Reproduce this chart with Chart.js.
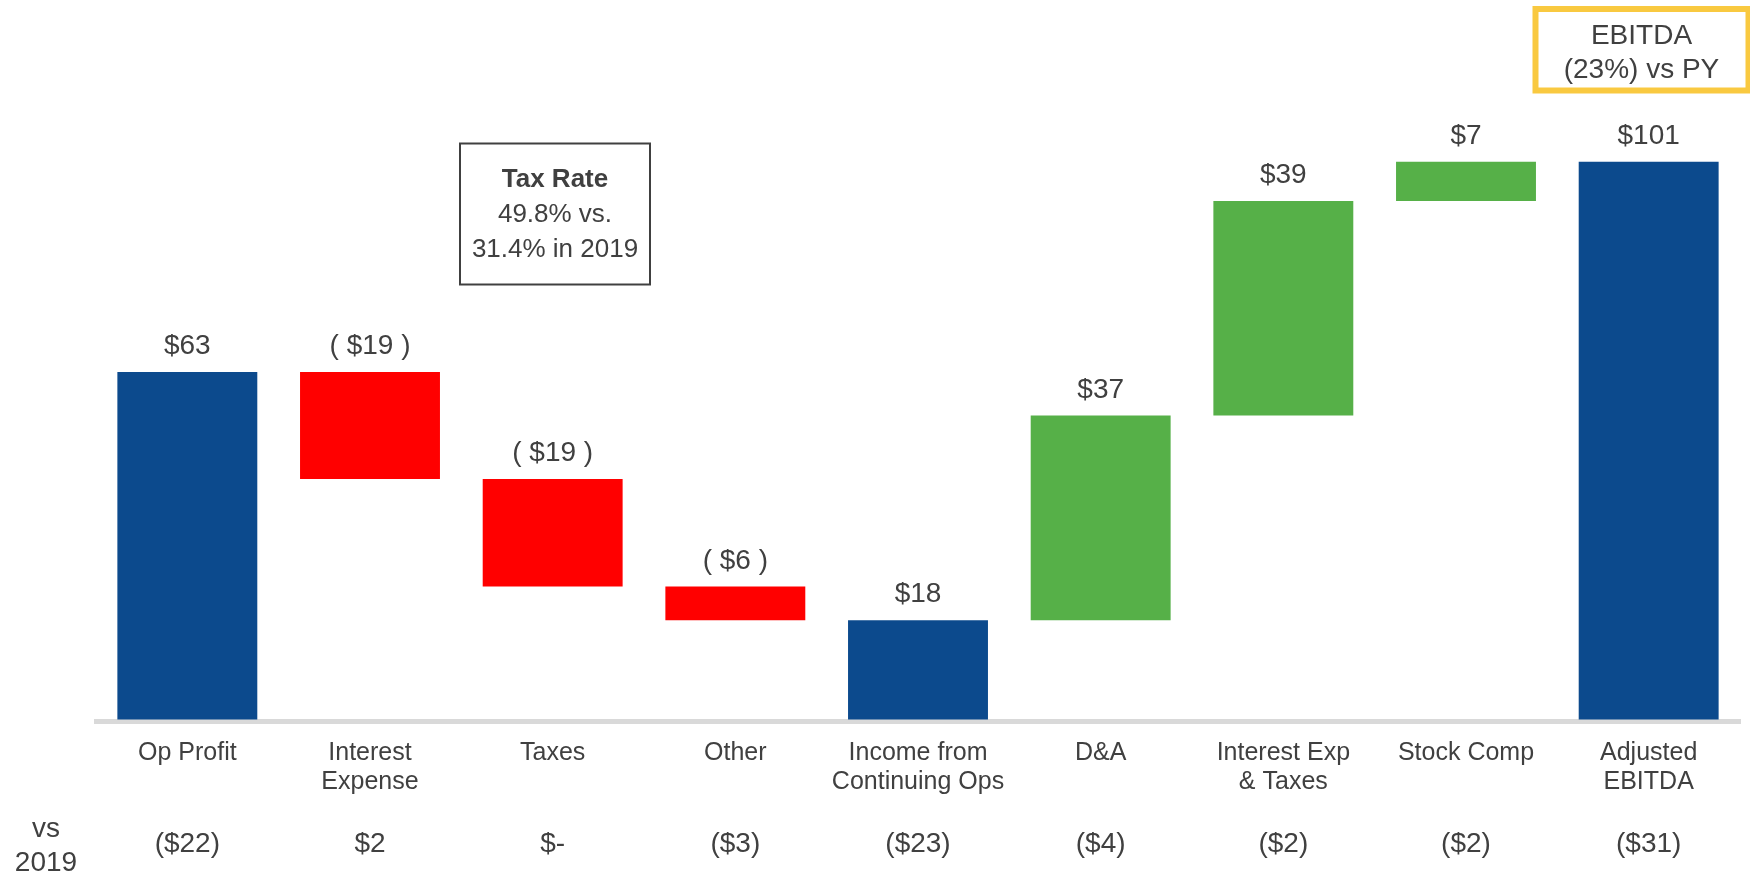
<!DOCTYPE html>
<html><head><meta charset="utf-8">
<script src="https://cdn.jsdelivr.net/npm/chart.js@4.4.1/dist/chart.umd.min.js"></script>
<style>html,body{margin:0;padding:0;background:#fff;}#wrap{width:1750px;height:872px;position:relative;}</style>
</head><body><div id="wrap"><canvas id="c" width="1750" height="872"></canvas></div>
<script>
const categories = [['Op Profit'],['Interest','Expense'],['Taxes'],['Other'],['Income from','Continuing Ops'],['D&A'],['Interest Exp','& Taxes'],['Stock Comp'],['Adjusted','EBITDA']];
const kinds = ['total','delta','delta','delta','total','delta','delta','delta','total'];
const values = [63, -19.4, -19.5, -6.1, 18, 37.1, 38.9, 7.1, 101.1];
const barLabels = ['$63','( $19 )','( $19 )','( $6 )','$18','$37','$39','$7','$101'];
const vs2019Labels = ['($22)','$2','$-','($3)','($23)','($4)','($2)','($2)','($31)'];
const vsRowTitle = ['vs','2019'];
const taxNote = ['Tax Rate','49.8% vs.','31.4% in 2019'];
const ebitdaNote = ['EBITDA','(23%) vs PY'];

const FONT = "'Liberation Sans', Arial, sans-serif";
const TEXT = '#404040';
const BLUE = '#0C4A8D', RED = '#FF0000', GREEN = '#56B048';

let running = 0;
const ranges = values.map((v, i) => {
  if (kinds[i] === 'total') { running = v; return [0, v]; }
  const s = running; running += v; return [s, running];
});
const colors = values.map((v, i) => kinds[i] === 'total' ? BLUE : (v < 0 ? RED : GREEN));

const overlay = {
  id: 'overlay',
  afterDraw(chart) {
    const ctx = chart.ctx;
    const meta = chart.getDatasetMeta(0);
    const xs = chart.scales.x;
    ctx.save();
    ctx.fillStyle = TEXT;
    ctx.textAlign = 'center';
    ctx.textBaseline = 'alphabetic';
    ctx.font = '28px ' + FONT;
    meta.data.forEach((el, i) => {
      const top = Math.min(el.y, el.base);
      ctx.fillText(barLabels[i], el.x, top - 18);
    });
    // vs 2019 row
    vs2019Labels.forEach((t, i) => {
      ctx.fillText(t, xs.getPixelForValue(i), 852);
    });
    ctx.fillText(vsRowTitle[0], 46, 837);
    ctx.fillText(vsRowTitle[1], 46, 871);
    // Tax note box
    ctx.strokeStyle = '#404040';
    ctx.lineWidth = 2;
    ctx.strokeRect(460, 143.5, 190, 141);
    ctx.font = 'bold 26px ' + FONT;
    ctx.fillText(taxNote[0], 555, 187);
    ctx.font = '26px ' + FONT;
    ctx.fillText(taxNote[1], 555, 222);
    ctx.fillText(taxNote[2], 555, 257);
    // EBITDA note box
    ctx.strokeStyle = '#F9C940';
    ctx.lineWidth = 6;
    ctx.strokeRect(1535.5, 9, 213, 81.5);
    ctx.font = '28px ' + FONT;
    ctx.fillText(ebitdaNote[0], 1641.5, 43.5);
    ctx.fillText(ebitdaNote[1], 1641.5, 77.5);
    ctx.restore();
  }
};

Chart.defaults.font.family = FONT;
new Chart(document.getElementById('c'), {
  type: 'bar',
  data: {
    labels: categories,
    datasets: [{
      data: ranges,
      backgroundColor: colors,
      borderWidth: 0,
      categoryPercentage: 1,
      barPercentage: 0.766
    }]
  },
  options: {
    responsive: false,
    devicePixelRatio: 1,
    animation: false,
    layout: { padding: { left: 96, right: 10, top: 14, bottom: 50.5 } },
    plugins: { legend: { display: false }, tooltip: { enabled: false } },
    scales: {
      x: {
        z: 1,
        grid: { display: false, drawTicks: false },
        border: { display: true, color: '#D9D9D9', width: 5 },
        ticks: {
          color: TEXT, font: { size: 25, lineHeight: 1.16 }, padding: 17,
          autoSkip: false, maxRotation: 0, minRotation: 0
        },
        afterFit(s) { s.height = 100; }
      },
      y: { display: false, min: -0.36, max: 127.9 }
    }
  },
  plugins: [overlay]
});
</script>
</body></html>
